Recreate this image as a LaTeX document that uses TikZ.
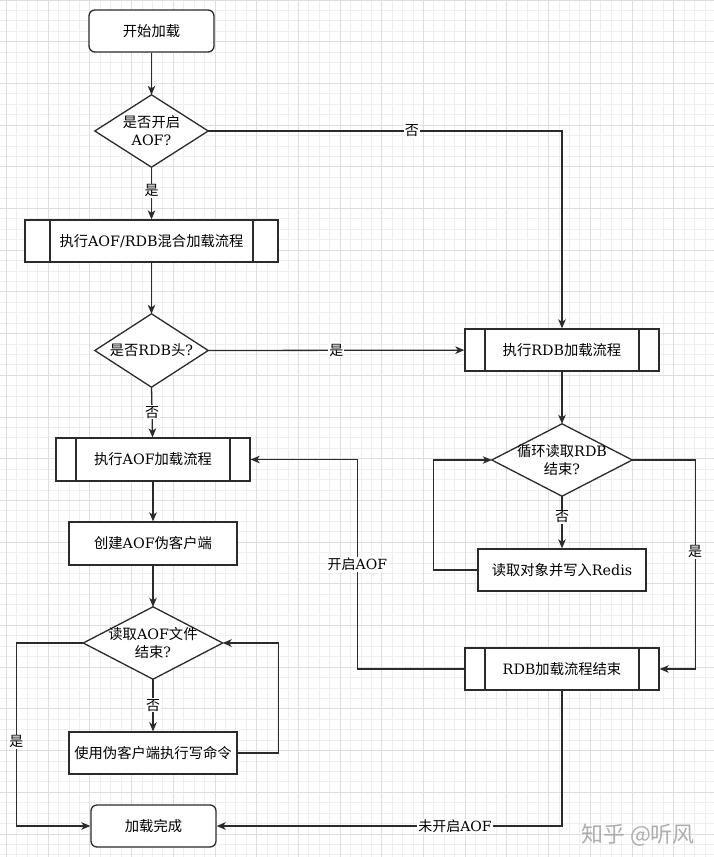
\documentclass[tikz,border=0pt]{standalone}
\usepackage{fontspec}
\setmainfont{DejaVu Serif}
\newfontfamily\cjk{Noto Sans CJK SC}
\newcommand\zh[1]{{\cjk #1}}
\usetikzlibrary{arrows.meta}
\definecolor{gminor}{HTML}{EFEFEF}
\definecolor{gmajor}{HTML}{DEDEDE}
\definecolor{inkc}{HTML}{2B2B2B}
\pgfdeclarelayer{gridlayer}
\pgfdeclarelayer{shapelayer}
\pgfsetlayers{gridlayer,shapelayer,main}
\begin{document}
\begin{tikzpicture}[x=1pt,y=-1pt,
 ink/.style={draw=inkc, line width=1.3pt},
 base/.style={ink, fill=white, inner sep=0pt, font=\fontsize{14.3}{18}\selectfont, align=center},
 term/.style={base, rounded corners=6pt, minimum width=125pt, minimum height=42pt},
 proc/.style={base, minimum width=168pt, minimum height=42pt},
 subproc/.style={base, minimum width=194pt, minimum height=42pt,
   path picture={\draw[ink] ([xshift=#1]path picture bounding box.north west) -- ([xshift=#1]path picture bounding box.south west)
     ([xshift=-#1]path picture bounding box.north east) -- ([xshift=-#1]path picture bounding box.south east);}},
 dec/.style={inner sep=0pt, font=\fontsize{14.3}{18}\selectfont, align=center, minimum height=72pt},
 arr/.style={ink, -{Stealth[length=9pt,width=7.5pt,inset=2.5pt]}},
 lbl/.style={fill=white, inner sep=1pt, font=\fontsize{14}{16}\selectfont},
 minorgrid/.style={draw=gminor, line width=0.9pt},
 majorgrid/.style={draw=gmajor, line width=0.9pt},
]
\useasboundingbox (0,0) rectangle (714,857);
\begin{pgfonlayer}{gridlayer}
\fill[white] (0,0) rectangle (714,857);
\foreach \i in {-1,...,68} \draw[minorgrid] ({6.5+\i*10.425},0) -- ({6.5+\i*10.425},857);
\foreach \j in {0,...,82} \draw[minorgrid] (0,{\j*10.425}) -- (714,{\j*10.425});
\foreach \i in {0,...,17} \draw[majorgrid] ({6.5+\i*41.7},0) -- ({6.5+\i*41.7},857);
\foreach \j in {0,...,20} \draw[majorgrid] (0,{\j*41.7}) -- (714,{\j*41.7});
\end{pgfonlayer}

% left column
\node[term] (start) at (151.5,31) {\zh{开始加载}};
\node[dec, minimum width=113pt] (d1) at (151.5,131) {\zh{是否开启}\\AOF?};
\node[subproc=25pt, minimum width=253pt] (p1) at (151.5,241) {\zh{执行}AOF/RDB\zh{混合加载流程}};
\node[dec, minimum width=113pt, minimum height=73pt] (d2) at (151.5,350.5) {\zh{是否}RDB\zh{头}?};
\node[subproc=20pt, minimum height=43pt] (p2) at (153,459.5) {\zh{执行}AOF\zh{加载流程}};
\node[proc, minimum height=43pt] (b1) at (153,543.5) {\zh{创建}AOF\zh{伪客户端}};
\node[dec, minimum width=139pt] (d3) at (153,643) {\zh{读取}AOF\zh{文件}\\\zh{结束}?};
\node[proc] (b2) at (153,753) {\zh{使用伪客户端执行写命令}};
\node[term] (end) at (153.5,826) {\zh{加载完成}};

% right column
\node[subproc=20pt] (pr) at (562,350) {\zh{执行}RDB\zh{加载流程}};
\node[dec, minimum width=140pt] (d4) at (562,460) {\zh{循环读取}RDB\\\zh{结束}?};
\node[proc] (b3) at (562,570) {\zh{读取对象并写入}Redis};
\node[subproc=20pt] (pe) at (562,669) {RDB\zh{加载流程结束}};

\begin{pgfonlayer}{shapelayer}
\foreach \n in {d1,d2,d3,d4}
  \filldraw[ink, fill=white] (\n.north) -- (\n.east) -- (\n.south) -- (\n.west) -- cycle;
\end{pgfonlayer}

% connectors
\draw[arr] (start) -- (d1.north);
\draw[arr] (d1.south) -- node[lbl, pos=0.45] {\zh{是}} (p1);
\draw[arr] (d1.east) -| node[lbl, pos=0.288] {\zh{否}} (pr.north);
\draw[arr] (p1) -- (d2.north);
\draw[arr] (d2.east) -- node[lbl] {\zh{是}} (pr);
\draw[arr] (d2.south) -- node[lbl] {\zh{否}} (p2);
\draw[arr] (p2) -- (b1);
\draw[arr] (b1) -- (d3.north);
\draw[arr] (d3.south) -- node[lbl] {\zh{否}} (b2);
\draw[arr] (b2.east) -- ++(41,0) |- (d3.east);
\draw[arr] (d3.west) -- ++(-67,0) |- node[lbl, pos=0.27] {\zh{是}} (end.west);

\draw[arr] (pr) -- (d4.north);
\draw[arr] (d4.south) -- node[lbl, pos=0.4] {\zh{否}} (b3);
\draw[arr] (b3.west) -- ++(-44,0) |- (d4.west);
\draw[arr] (d4.east) -- ++(63,0) |- node[lbl, pos=0.22] {\zh{是}} (pe.east);
\draw[arr] (pe.west) -- ++(-107,0) |- node[lbl, pos=0.25] {\zh{开启}AOF} (p2.east);
\draw[arr] (pe.south) |- node[lbl, pos=0.655] {\zh{未开启}AOF} (end.east);

% watermark
\node[text=black!32, font=\cjk\fontsize{22}{24}\selectfont] (wm) at (638,835) {知乎 @听风};
\end{tikzpicture}
\end{document}
